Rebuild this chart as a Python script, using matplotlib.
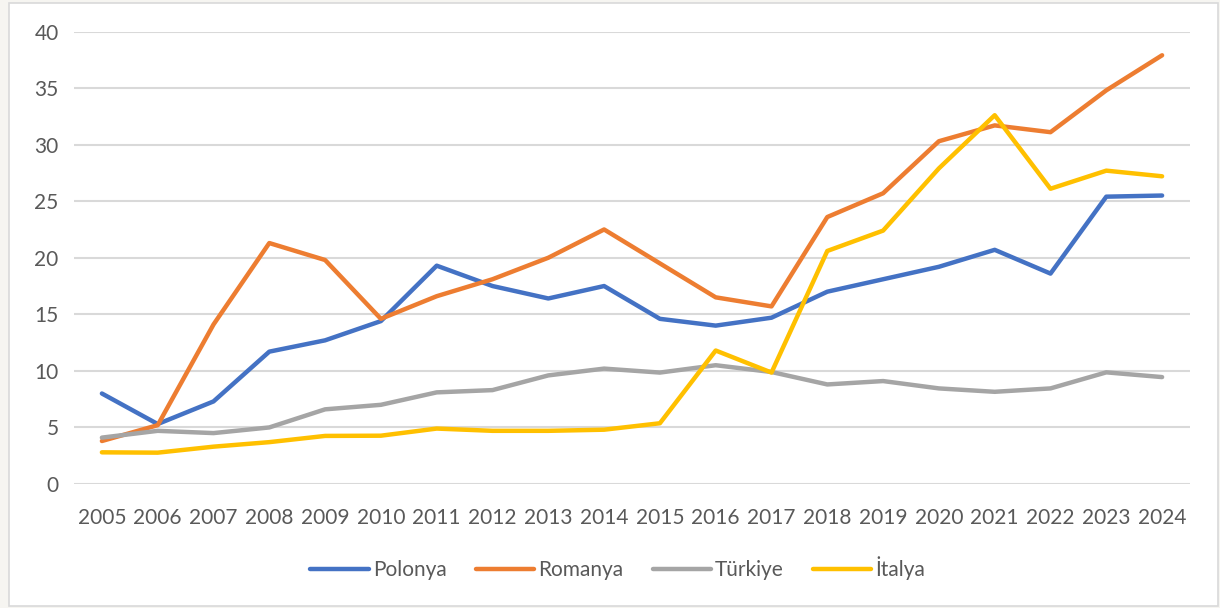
import matplotlib
matplotlib.use("Agg")
import matplotlib.pyplot as plt
from matplotlib.patches import Rectangle

years = ["2005", "2006", "2007", "2008", "2009", "2010", "2011", "2012", "2013", "2014",
         "2015", "2016", "2017", "2018", "2019", "2020", "2021", "2022", "2023", "2024"]
polonya = [8.0, 5.3, 7.3, 11.7, 12.7, 14.4, 19.3, 17.5, 16.4, 17.5,
           14.6, 14.0, 14.7, 17.0, 18.1, 19.2, 20.7, 18.6, 25.4, 25.5]
romanya = [3.8, 5.2, 14.1, 21.3, 19.8, 14.6, 16.6, 18.1, 20.0, 22.5,
           19.5, 16.5, 15.7, 23.6, 25.7, 30.3, 31.7, 31.1, 34.8, 37.9]
turkiye = [4.1, 4.7, 4.5, 5.0, 6.6, 7.0, 8.1, 8.3, 9.6, 10.2,
           9.85, 10.5, 9.9, 8.8, 9.1, 8.45, 8.15, 8.45, 9.87, 9.45]
italya = [2.8, 2.77, 3.3, 3.7, 4.25, 4.27, 4.9, 4.7, 4.7, 4.8,
          5.37, 11.8, 9.85, 20.6, 22.4, 27.9, 32.6, 26.1, 27.7, 27.2]
series_names = ["Polonya", "Romanya", "Türkiye", "İtalya"]
colors = ["#4472C4", "#ED7D31", "#A5A5A5", "#FFC000"]
yticks = [0, 5, 10, 15, 20, 25, 30, 35, 40]

plt.rcParams['font.family'] = ['Lato', 'DejaVu Sans']
text_color = "#595959"

fig = plt.figure(figsize=(12.2, 6.08), dpi=100)
fig.patch.set_facecolor("#f6f5f1")
W, H = 1220, 608
fig.patches.append(Rectangle((9 / W, 2 / H), (1218 - 9) / W, (605 - 2) / H,
                             transform=fig.transFigure, facecolor="white",
                             edgecolor="#d9d9d9", linewidth=1.2, zorder=-5))

ax = fig.add_axes([74 / W, (608 - 484) / H, 1116 / W, 452.5 / H])
ax.set_zorder(2)
ax.patch.set_visible(False)
x = list(range(len(years)))
for vals, name, c in zip([polonya, romanya, turkiye, italya], series_names, colors):
    ax.plot(x, vals, color=c, lw=3.2, label=name, solid_capstyle="round",
            solid_joinstyle="round", zorder=3)

ax.set_xlim(-0.5, len(years) - 0.5)
ax.set_ylim(0, 40)
ax.set_xticks(x)
ax.set_xticklabels(years)
ax.set_yticks(yticks)
ax.yaxis.grid(True, color="#d9d9d9", lw=1.5)
ax.set_axisbelow(True)
for s in ax.spines.values():
    s.set_visible(False)
ax.tick_params(axis="both", length=0, labelsize=15, colors=text_color)
ax.tick_params(axis="y", pad=11)
ax.tick_params(axis="x", pad=17)

leg = fig.legend(loc="center", bbox_to_anchor=(618 / W, 1 - 568 / H), ncol=4, frameon=False,
                 fontsize=15, handlelength=2.8, handletextpad=0.2, columnspacing=1.4,
                 labelcolor=text_color)
leg.set_zorder(3)

fig.savefig("out.png", dpi=100, facecolor=fig.get_facecolor())
